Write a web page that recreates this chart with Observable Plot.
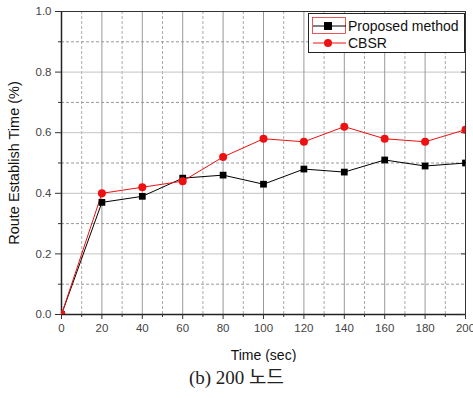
<!DOCTYPE html>
<html>
<head>
<meta charset="utf-8">
<script src="https://cdn.jsdelivr.net/npm/d3@7"></script>
<script src="https://cdn.jsdelivr.net/npm/@observablehq/plot@0.6"></script>
<style>
  body { margin: 0; background: #fff; }
  #wrap { position: relative; width: 473px; height: 398px; font-family: Arial, "Liberation Sans", sans-serif; }
  #legend { position: absolute; left: 308px; top: 13px; }
  #caption { position: absolute; left: 0; top: 366px; width: 473px; text-align: center; font-family: "Liberation Serif", "Noto Sans CJK KR", serif; font-size: 19px; color: #222; line-height: 24px; }
</style>
</head>
<body>
<div id="wrap">
  <div id="chart"></div>
  <div id="legend"></div>
  <div id="caption">(b) 200 노드</div>
</div>
<script>
const time = [0, 20, 40, 60, 80, 100, 120, 140, 160, 180, 200];
const proposed = [0, 0.37, 0.39, 0.45, 0.46, 0.43, 0.48, 0.47, 0.51, 0.49, 0.50];
const cbsr = [0, 0.40, 0.42, 0.44, 0.52, 0.58, 0.57, 0.62, 0.58, 0.57, 0.61];
const seriesNames = ["Proposed method", "CBSR"];
const seriesColors = ["#000000", "#ee1111"];
const xMajor = [0, 20, 40, 60, 80, 100, 120, 140, 160, 180, 200];
const xMinor = [10, 30, 50, 70, 90, 110, 130, 150, 170, 190];
const yMajor = [0, 0.2, 0.4, 0.6, 0.8, 1.0];
const yMinor = [0.1, 0.3, 0.5, 0.7, 0.9];
const xTitle = "Time (sec)";
const yTitle = "Route Establish Time (%)";

const pData = time.map((t, i) => ({t, v: proposed[i]}));
const cData = time.map((t, i) => ({t, v: cbsr[i]}));

const chart = Plot.plot({
  width: 473,
  height: 362,
  marginLeft: 61,
  marginRight: 8,
  marginTop: 11,
  marginBottom: 48,
  style: {fontFamily: "Arial, 'Liberation Sans', sans-serif", fontSize: "11px", color: "#333", background: "#fff"},
  x: {domain: [0, 200]},
  y: {domain: [0, 1]},
  marks: [
    Plot.gridX(xMinor, {stroke: "#aaa", strokeOpacity: 1, strokeDasharray: "3,2"}),
    Plot.gridY(yMinor, {stroke: "#999", strokeOpacity: 1, strokeDasharray: "3,2"}),
    Plot.gridY(yMajor.slice(1, -1), {stroke: "#c4c4c4", strokeOpacity: 1}),
    Plot.gridX(xMajor.slice(1, -1), {stroke: "#999", strokeOpacity: 1}),
    Plot.frame({stroke: "#333", strokeWidth: 1}),
    Plot.ruleX([0], {stroke: "#222", strokeWidth: 1.5}),
    Plot.ruleY([0], {stroke: "#222", strokeWidth: 1.5}),
    Plot.axisX(xMajor, {tickSize: 5, tickPadding: 4, label: null, fontSize: "11.5px", fill: "#444"}),
    Plot.axisX([], {tickSize: 0, label: xTitle, labelAnchor: "center", labelOffset: 45, labelArrow: "none", fontSize: "14px", fill: "#111"}),
    Plot.axisX(xMinor, {tickSize: 3, tickFormat: () => "", label: null}),
    Plot.axisY(yMajor, {tickSize: 6, tickPadding: 4, tickFormat: d3.format(".1f"), label: null, fontSize: "11.5px", fill: "#444"}),
    Plot.axisY([], {tickSize: 0, label: yTitle, labelAnchor: "center", labelOffset: 53, labelArrow: "none", fontSize: "14.5px", fill: "#111"}),
    Plot.axisY(yMinor, {tickSize: 3, tickFormat: () => "", label: null}),
    Plot.axisY(yMajor, {anchor: "right", tickSize: -5, tickFormat: () => "", label: null}),
    Plot.line(pData, {x: "t", y: "v", stroke: seriesColors[0], strokeWidth: 1}),
    Plot.line(cData, {x: "t", y: "v", stroke: seriesColors[1], strokeWidth: 1}),
    Plot.dot(pData, {x: "t", y: "v", symbol: "square", r: 3.8, fill: seriesColors[0], stroke: "none", clip: true}),
    Plot.dot(cData, {x: "t", y: "v", symbol: "circle", r: 4, fill: seriesColors[1], stroke: "none", clip: true})
  ]
});
document.getElementById("chart").appendChild(chart);

// legend
const lg = d3.select("#legend").append("svg").attr("width", 157).attr("height", 40)
  .style("font-family", "Arial, 'Liberation Sans', sans-serif");
lg.append("rect").attr("x", 0.5).attr("y", 0.5).attr("width", 156).attr("height", 39)
  .attr("fill", "#fff").attr("stroke", "#222");
lg.append("rect").attr("x", 4.5).attr("y", 4.5).attr("width", 33).attr("height", 16)
  .attr("fill", "none").attr("stroke", "#e03030").attr("stroke-width", 0.8);
seriesNames.forEach((name, i) => {
  const cy = 13 + i * 17;
  lg.append("line").attr("x1", 5).attr("x2", 38).attr("y1", cy).attr("y2", cy).attr("stroke", seriesColors[i]);
  if (i === 0) lg.append("rect").attr("x", 16).attr("y", cy - 4).attr("width", 8).attr("height", 8).attr("fill", seriesColors[i]);
  else lg.append("circle").attr("cx", 20).attr("cy", cy).attr("r", 4).attr("fill", seriesColors[i]);
  lg.append("text").attr("x", 40).attr("y", cy).attr("dy", "0.35em").attr("font-size", 14).attr("fill", "#111").text(name);
});
</script>
</body>
</html>
